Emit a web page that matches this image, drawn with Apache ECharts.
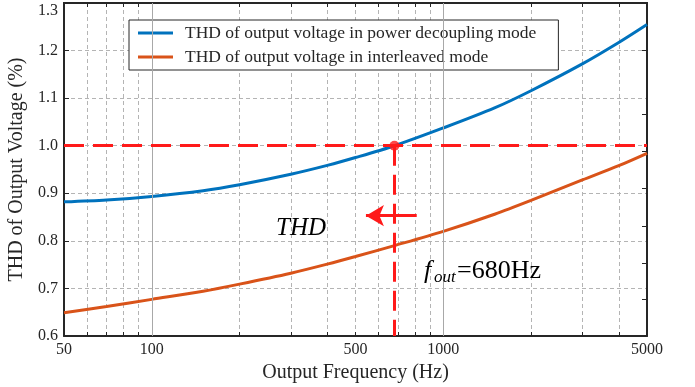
<!DOCTYPE html>
<html>
<head>
<meta charset="utf-8">
<script src="https://cdn.jsdelivr.net/npm/echarts@6/dist/echarts.min.js"></script>
<style>
  html, body { margin: 0; background: #fff; }
  #chart { width: 695px; height: 387px; }
</style>
</head>
<body>
<div id="chart"></div>
<script>
  // output frequency (Hz)
  const freq = [50, 70, 100, 150, 200, 300, 400, 500, 680, 1000, 1500, 2000, 3000, 4000, 5000]
  // THD (%)
  const thdDecoupling = [0.882, 0.886, 0.8934, 0.9054, 0.918, 0.940, 0.9586, 0.9751, 1.0, 1.0373, 1.0795, 1.1156, 1.172, 1.217, 1.2548]
  const thdInterleaved = [0.649, 0.662, 0.677, 0.694, 0.709, 0.732, 0.751, 0.767, 0.790, 0.820, 0.856, 0.885, 0.928, 0.958, 0.984]

  // axis ticks
  const xLabelValues = [50, 100, 500, 1000, 5000]
  const xMinorValues = [60, 70, 80, 90, 200, 300, 400, 500, 600, 700, 800, 900, 2000, 3000, 4000]
  const xMajorValues = [100, 1000]
  const yRightTicks = [0.677, 0.753, 0.831, 0.911, 0.989, 1.067, 1.2]

  // annotation
  const fOut = 680
  const thdLimit = 1.0
  const arrowFrom = [811, 0.853]
  const arrowTo = [543, 0.853]

  const FONT = '"Liberation Serif", "Times New Roman", serif'
  const INK = '#262626'
  const GRID = '#b4b4b4'
  const RED = '#ff1a1a'

  const chart = echarts.init(document.getElementById('chart'))

  const tickAxis = (position, values, len) => ({
    type: 'log', logBase: 10, min: 50, max: 5000, position: position,
    axisLine: { show: position === 'top', onZero: false, lineStyle: { color: INK, width: 2 } },
    axisTick: { show: true, inside: true, length: len, customValues: values, lineStyle: { color: INK, width: 1 } },
    axisLabel: { show: false },
    splitLine: { show: false }
  })

  const option = {
    animation: false,
    grid: { left: 64, right: 48, top: 3, bottom: 51, outerBoundsMode: 'none' },
    legend: {
      data: ['THD of output voltage in power decoupling mode', 'THD of output voltage in interleaved mode'],
      orient: 'vertical',
      left: 129,
      top: 20,
      padding: [4, 22, 4, 9],
      itemGap: 6,
      itemWidth: 35,
      itemHeight: 3,
      icon: 'rect',
      backgroundColor: '#fff',
      borderColor: INK,
      borderWidth: 1,
      borderRadius: 0,
      textStyle: { fontFamily: FONT, fontSize: 17.5, color: INK, lineHeight: 18, padding: [0, 0, 0, 7] }
    },
    xAxis: [
      {
        type: 'log', logBase: 10, min: 50, max: 5000, position: 'bottom',
        name: 'Output Frequency (Hz)', nameLocation: 'middle', nameGap: 23,
        nameTextStyle: { fontFamily: FONT, fontSize: 20, color: INK },
        axisLine: { show: true, onZero: false, lineStyle: { color: INK, width: 2 } },
        axisTick: { show: true, inside: true, length: 4, customValues: xMinorValues, lineStyle: { color: INK, width: 1 } },
        axisLabel: { customValues: xLabelValues, fontFamily: FONT, fontSize: 16, color: INK, margin: 6, formatter: v => String(v) },
        splitLine: { show: true, lineStyle: { color: GRID, width: 1, type: [4, 3] } }
      },
      tickAxis('bottom', xMajorValues, 8),
      tickAxis('top', xMinorValues, 4),
      tickAxis('top', xMajorValues, 8)
    ],
    yAxis: [
      {
        type: 'value', min: 0.6, max: 1.3, interval: 0.1, position: 'left',
        name: 'THD of Output Voltage (%)', nameLocation: 'middle', nameGap: 30, nameRotate: 90,
        nameTextStyle: { fontFamily: FONT, fontSize: 20, color: INK },
        axisLine: { show: true, onZero: false, lineStyle: { color: INK, width: 2 } },
        axisTick: { show: true, inside: true, length: 5, lineStyle: { color: INK, width: 1 } },
        axisLabel: {
          fontFamily: FONT, fontSize: 16, color: INK, margin: 6,
          verticalAlignMaxLabel: 'top',
          formatter: v => v.toFixed(1)
        },
        splitLine: { show: true, lineStyle: { color: GRID, width: 1, type: [4, 3] } }
      },
      {
        type: 'value', min: 0.6, max: 1.3, position: 'right',
        axisLine: { show: true, onZero: false, lineStyle: { color: INK, width: 2 } },
        axisTick: { show: true, inside: true, length: 5, customValues: yRightTicks, lineStyle: { color: INK, width: 1 } },
        axisLabel: { show: false },
        splitLine: { show: false }
      }
    ],
    series: [
      {
        // solid grid lines at the decades
        type: 'line', data: [], z: 1, silent: true,
        markLine: {
          silent: true, symbol: 'none', animation: false,
          label: { show: false },
          lineStyle: { color: '#a8a8a8', width: 1, type: 'solid' },
          data: xMajorValues.map(v => ({ xAxis: v }))
        }
      },
      {
        name: 'THD of output voltage in power decoupling mode',
        type: 'line', z: 3,
        data: freq.map((f, i) => [f, thdDecoupling[i]]),
        smooth: 0.3, showSymbol: false,
        lineStyle: { color: '#0072bd', width: 3 },
        itemStyle: { color: '#0072bd' }
      },
      {
        name: 'THD of output voltage in interleaved mode',
        type: 'line', z: 3,
        data: freq.map((f, i) => [f, thdInterleaved[i]]),
        smooth: 0.3, showSymbol: false,
        lineStyle: { color: '#d95319', width: 3 },
        itemStyle: { color: '#d95319' }
      },
      {
        type: 'scatter', z: 5,
        data: [[fOut, thdLimit]],
        symbolSize: 10,
        itemStyle: { color: RED },
        markLine: {
          silent: true, animation: false,
          symbol: 'none',
          label: { show: false },
          lineStyle: { color: RED, width: 3, type: [20, 9] },
          data: [
            [{ coord: [50, thdLimit] }, { coord: [5000, thdLimit] }],
            [{ coord: [fOut, thdLimit] }, { coord: [fOut, 0.6] }],
            [
              { coord: arrowFrom, lineStyle: { type: 'solid', width: 3 }, symbol: 'none' },
              { coord: arrowTo, symbol: 'arrow', symbolSize: [16, 18] }
            ]
          ]
        }
      }
    ],
    graphic: [
      { type: 'text', left: 276, top: 216, z: 10,
        style: { text: 'THD', fontFamily: FONT, fontStyle: 'italic', fontSize: 25, fill: '#000' } },
      { type: 'text', x: 424, y: 271, z: 10,
        style: { text: 'f', fontFamily: FONT, fontStyle: 'italic', fontSize: 26, fill: '#000', verticalAlign: 'middle' } },
      { type: 'text', x: 434, y: 278, z: 10,
        style: { text: 'out', fontFamily: FONT, fontStyle: 'italic', fontSize: 17, fill: '#000', verticalAlign: 'middle' } },
      { type: 'text', x: 457, y: 271, z: 10,
        style: { text: '=680Hz', fontFamily: FONT, fontSize: 26, fill: '#000', verticalAlign: 'middle' } }
    ]
  }

  chart.setOption(option)
  window.addEventListener('resize', () => chart.resize())
</script>
</body>
</html>
